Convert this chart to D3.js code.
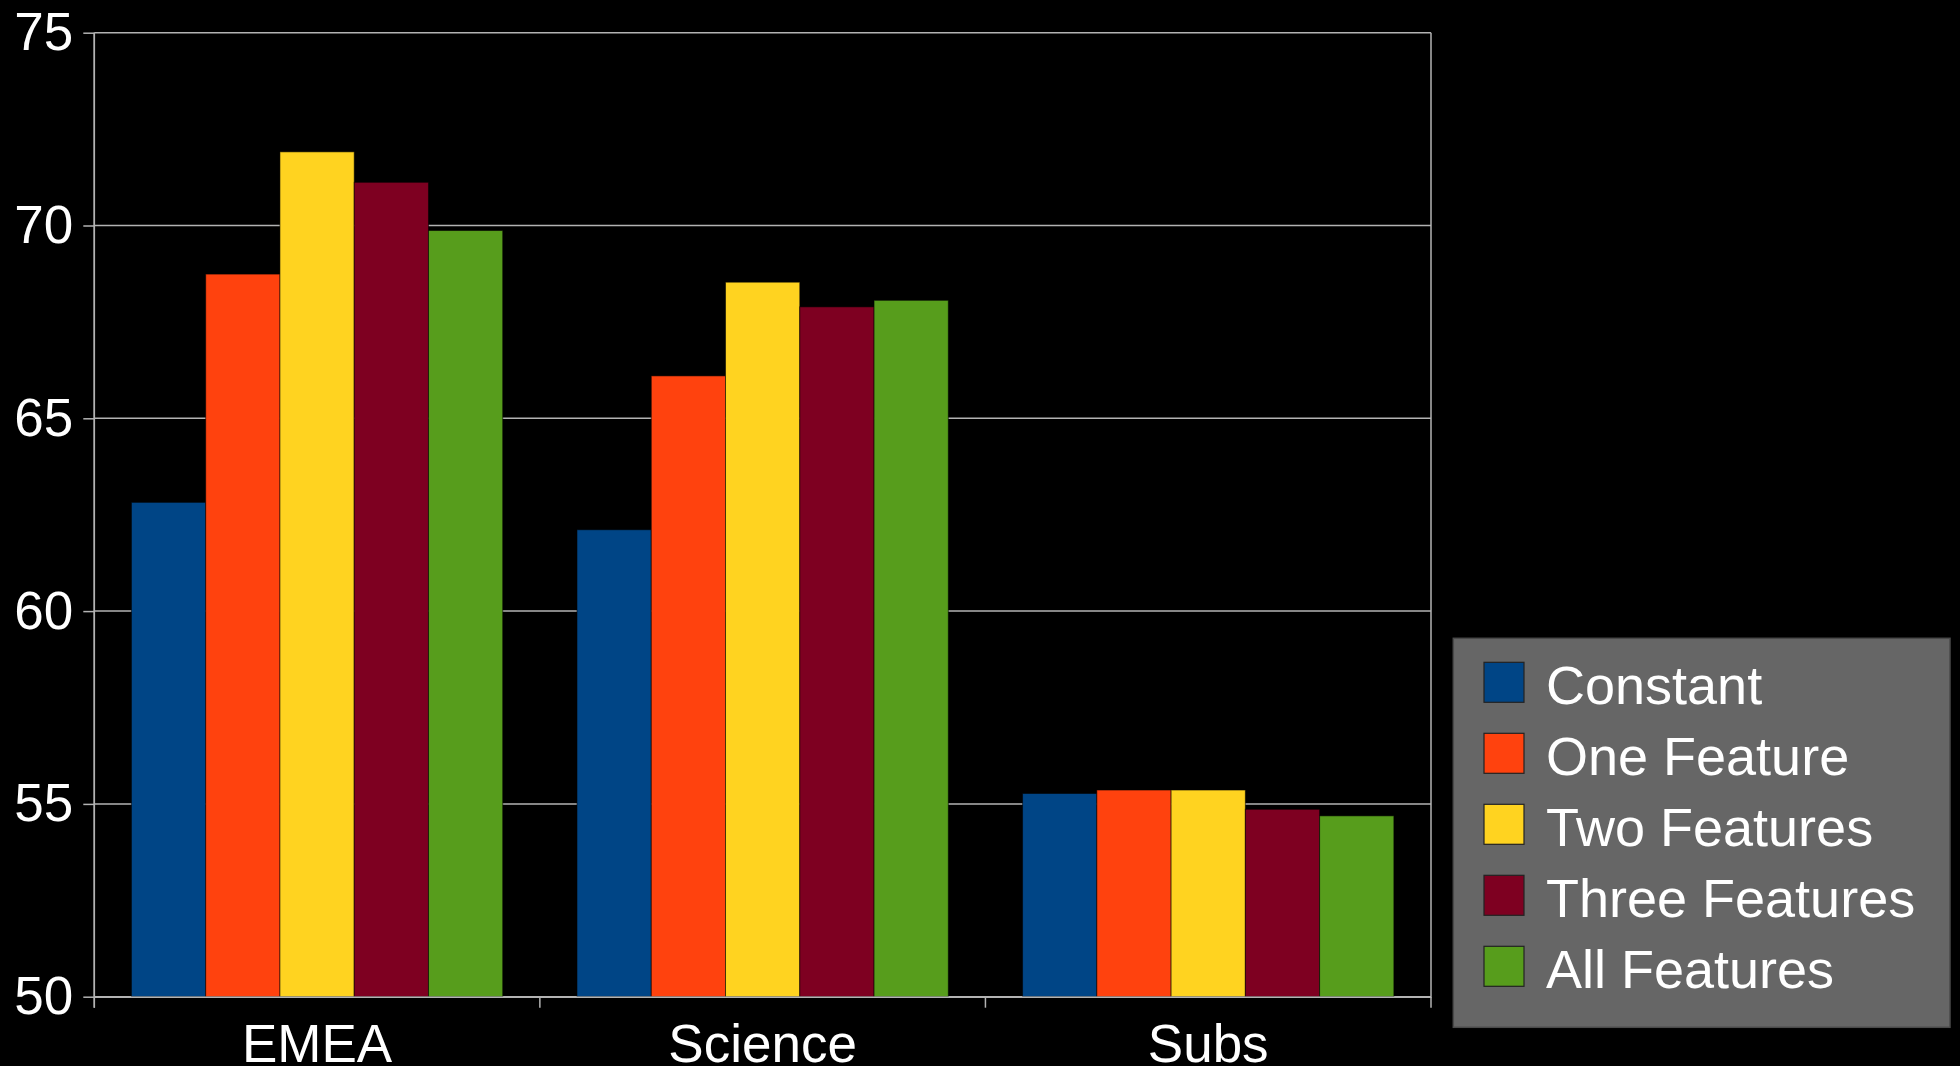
<!DOCTYPE html>
<html>
<head>
<meta charset="utf-8">
<script src="https://cdn.jsdelivr.net/npm/d3@7"></script>
<style>
  body { margin: 0; background: #000; overflow: hidden; }
  svg { display: block; font-family: "Liberation Sans", Arial, sans-serif; }
</style>
</head>
<body>
<svg width="1960" height="1066"></svg>
<script>
'use strict'

const categories = ['EMEA', 'Science', 'Subs'];
const series = ['Constant', 'One Feature', 'Two Features', 'Three Features', 'All Features'];
const colors = ['#004586', '#ff420e', '#ffd320', '#7e0021', '#579d1c'];
const yTicks = [50, 55, 60, 65, 70, 75];

// values per series, in category order
const constant = [62.82, 62.11, 55.27];
const oneFeature = [68.74, 66.10, 55.36];
const twoFeatures = [71.91, 68.53, 55.36];
const threeFeatures = [71.12, 67.89, 54.86];
const allFeatures = [69.87, 68.06, 54.69];
const values = [constant, oneFeature, twoFeatures, threeFeatures, allFeatures];

const plotLeft = 94.3, plotRight = 1431, plotTop = 32.7, plotBottom = 996.7;

const svg = d3.select('svg');

const x0 = d3.scaleBand()
  .domain(categories)
  .range([plotLeft, plotRight])
  .padding(0);

const bw = x0.bandwidth();
const x1 = d3.scaleBand()
  .domain(series)
  .range([bw / 12, bw * 11 / 12])
  .padding(0);

const y = d3.scaleLinear()
  .domain([50, 75])
  .range([plotBottom, plotTop]);

const color = d3.scaleOrdinal().domain(series).range(colors);

// gridlines
svg.append('g')
  .selectAll('line')
  .data(yTicks)
  .join('line')
  .attr('x1', plotLeft)
  .attr('x2', plotRight)
  .attr('y1', d => y(d))
  .attr('y2', d => y(d))
  .attr('stroke', '#b3b3b3')
  .attr('stroke-width', 1.5);

// plot border (left/right sides)
svg.append('g')
  .selectAll('line')
  .data([plotLeft, plotRight])
  .join('line')
  .attr('x1', d => d)
  .attr('x2', d => d)
  .attr('y1', plotTop)
  .attr('y2', plotBottom)
  .attr('stroke', '#b3b3b3')
  .attr('stroke-width', 1.5);

// bars
const rows = categories.map((c, ci) => ({
  cat: c,
  vals: series.map((s, si) => ({ s: s, v: values[si][ci] }))
}));

svg.append('g')
  .selectAll('g')
  .data(rows)
  .join('g')
  .attr('transform', d => `translate(${x0(d.cat)},0)`)
  .selectAll('rect')
  .data(d => d.vals)
  .join('rect')
  .attr('x', d => x1(d.s))
  .attr('y', d => y(d.v))
  .attr('width', x1.bandwidth())
  .attr('height', d => y(50) - y(d.v))
  .attr('fill', d => color(d.s))
  .attr('stroke', '#000')
  .attr('stroke-opacity', 0.55)
  .attr('stroke-width', 1);

// y axis
const yAxis = svg.append('g')
  .attr('transform', `translate(${plotLeft},0)`)
  .call(d3.axisLeft(y).tickValues(yTicks).tickSizeInner(11).tickSizeOuter(0).tickPadding(10));
yAxis.select('.domain').attr('stroke', '#b3b3b3').attr('stroke-width', 1.5)
  .attr('d', `M0,${plotTop}V${plotBottom + 11}`);
yAxis.selectAll('.tick line').attr('stroke', '#b3b3b3').attr('stroke-width', 1.5);
yAxis.selectAll('.tick text').attr('fill', '#fff').attr('font-size', 53)
  .attr('font-family', '"Liberation Sans", Arial, sans-serif');

// x axis baseline + labels
const xAxis = svg.append('g')
  .attr('transform', `translate(0,${plotBottom})`)
  .call(d3.axisBottom(x0).tickSize(0).tickPadding(28));
xAxis.select('.domain').attr('stroke', '#b3b3b3').attr('stroke-width', 1.5);
xAxis.selectAll('.tick text').attr('fill', '#fff').attr('font-size', 53)
  .attr('font-family', '"Liberation Sans", Arial, sans-serif');

// category boundary ticks
const bounds = categories.map(c => x0(c)).concat([x0.range()[1]]);
svg.append('g')
  .selectAll('line')
  .data(bounds)
  .join('line')
  .attr('x1', d => d)
  .attr('x2', d => d)
  .attr('y1', plotBottom)
  .attr('y2', plotBottom + 11)
  .attr('stroke', '#b3b3b3')
  .attr('stroke-width', 1.5);

// legend
const legend = svg.append('g').attr('transform', 'translate(1453.3,638.3)');
legend.append('rect')
  .attr('width', 496.7)
  .attr('height', 389)
  .attr('fill', '#666666')
  .attr('stroke', '#4a4a4a')
  .attr('stroke-width', 1.5);

const item = legend.selectAll('g.item')
  .data(series)
  .join('g')
  .attr('class', 'item')
  .attr('transform', (d, i) => `translate(30.7,${24 + i * 71})`);

item.append('rect')
  .attr('width', 40)
  .attr('height', 40)
  .attr('fill', d => color(d))
  .attr('stroke', '#222')
  .attr('stroke-width', 1.2);

item.append('text')
  .attr('x', 62)
  .attr('y', 23)
  .attr('dy', '0.35em')
  .attr('fill', '#fff')
  .attr('font-size', 54)
  .text(d => d);
</script>
</body>
</html>
